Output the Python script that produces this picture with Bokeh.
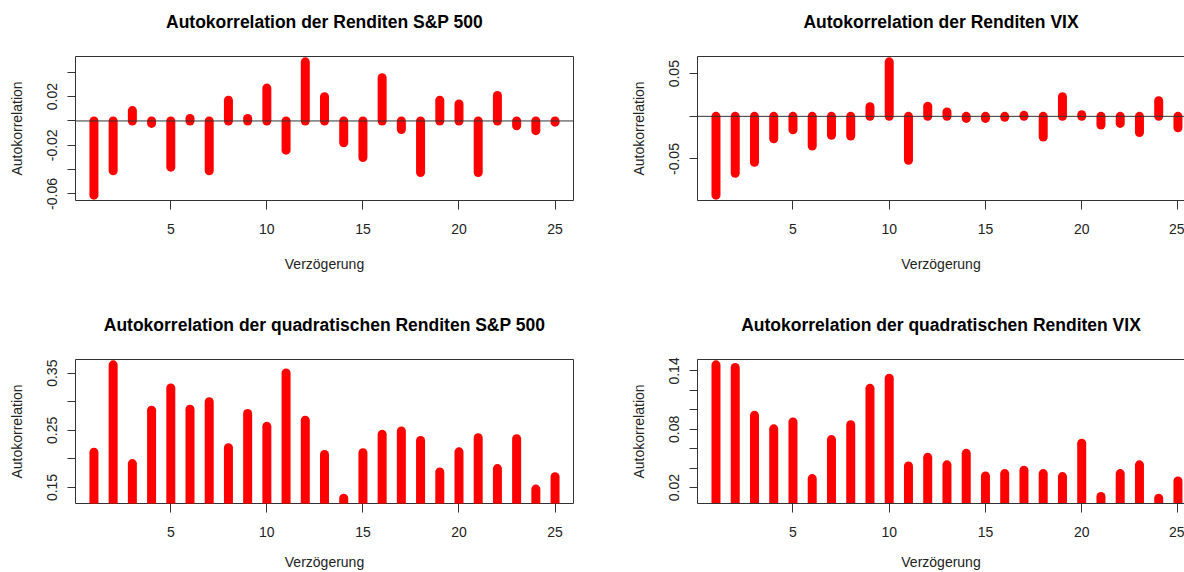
from bokeh.plotting import figure
from bokeh.layouts import gridplot
from bokeh.models import Range1d, FixedTicker, Span, LinearAxis, ColumnDataSource
from bokeh.core.properties import value
from bokeh.embed import file_html
from bokeh.resources import INLINE

lags = list(range(1, 26))
acf_sp = [-0.061, -0.041, 0.0085, -0.002, -0.038, 0.002, -0.041, 0.017, 0.002, 0.027,
          -0.024, 0.0486, 0.020, -0.018, -0.030, 0.0356, -0.007, -0.0424, 0.017, 0.014,
          -0.0424, 0.021, -0.004, -0.008, -0.001]
acf_vix = [-0.0924, -0.0667, -0.0539, -0.0262, -0.0158, -0.0349, -0.0222, -0.023, 0.0112, 0.0639,
           -0.0515, 0.0119, 0.0052, -0.0024, -0.0024, -0.0012, 0.0012, -0.0242, 0.0231, 0.002,
           -0.0102, -0.0083, -0.019, 0.0183, -0.0135]
acf_sp_sq = [0.2117, 0.3646, 0.1918, 0.2853, 0.3241, 0.287, 0.300, 0.2195, 0.2794, 0.257,
             0.3505, 0.2676, 0.2077, 0.1313, 0.2107, 0.243, 0.2488, 0.2324, 0.1772, 0.2124,
             0.2371, 0.183, 0.2354, 0.1472, 0.1689]
acf_vix_sq = [0.1463, 0.1436, 0.0944, 0.0805, 0.0875, 0.0293, 0.0694, 0.0847, 0.1221, 0.1325,
              0.0424, 0.0512, 0.0435, 0.0553, 0.032, 0.0345, 0.038, 0.0345, 0.0314, 0.0657,
              0.011, 0.0345, 0.0435, 0.0092, 0.0269]

titles = ["Autokorrelation der Renditen S&P 500",
          "Autokorrelation der Renditen VIX",
          "Autokorrelation der quadratischen Renditen S&P 500",
          "Autokorrelation der quadratischen Renditen VIX"]
xticks = [5, 10, 15, 20, 25]
yticks_sp = [-0.06, -0.04, -0.02, 0, 0.02, 0.04]
ylabels_sp = ["-0.06", "", "-0.02", "", "0.02", ""]
yticks_vix = [-0.05, 0, 0.05]
ylabels_vix = ["-0.05", "", "0.05"]
yticks_sp_sq = [0.15, 0.2, 0.25, 0.3, 0.35]
ylabels_sp_sq = ["0.15", "", "0.25", "", "0.35"]
yticks_vix_sq = [0.02, 0.04, 0.06, 0.08, 0.1, 0.12, 0.14]
ylabels_vix_sq = ["0.02", "", "", "0.08", "", "", "0.14"]

FONT = "Liberation Sans"
BOX = "#333333"
TITLE_H = 40


def xlims(right):
    return (0.04, 25.34) if right else (0.04, 25.96)


def title_fig(title, right):
    x0, x1 = xlims(right)
    t = figure(width=563 if right else 621, height=TITLE_H, output_backend="svg",
               toolbar_location=None, title=None,
               x_range=Range1d(x0, x1), y_range=Range1d(0, TITLE_H),
               x_axis_type=None, y_axis_type=None,
               min_border_left=76 if right else 75, min_border_right=0 if right else 48,
               min_border_top=0, min_border_bottom=0)
    t.outline_line_color = None
    t.xgrid.grid_line_color = None
    t.ygrid.grid_line_color = None
    t.background_fill_color = "white"
    t.border_fill_color = "white"
    t.text(x=[(x0 + x1) / 2], y=[18.5], text=[title], text_align="center",
           text_baseline="middle", text_font=value(FONT), text_font_size="17.5px",
           text_font_style="bold", text_color="#000000")
    return t


def panel(vals, yticks, ylabels, right, top_row):
    lo, hi = min(vals), max(vals)
    r = hi - lo
    w = 563 if right else 621
    h = (303 if top_row else 269) - TITLE_H
    x0, x1 = xlims(right)
    p = figure(width=w, height=h, output_backend="svg", toolbar_location=None, title=None,
               x_range=Range1d(x0, x1), y_range=Range1d(lo - 0.04 * r, hi + 0.04 * r),
               min_border_left=76 if right else 75,
               min_border_right=0 if right else 48,
               min_border_top=56 - TITLE_H,
               min_border_bottom=103 if top_row else 69)
    p.background_fill_color = "white"
    p.border_fill_color = "white"
    p.xgrid.grid_line_color = None
    p.ygrid.grid_line_color = None

    src = ColumnDataSource(dict(lag=lags, val=vals))
    p.segment(x0="lag", y0=0, x1="lag", y1="val", source=src,
              line_color="#ff0000", line_width=9, line_cap="round")
    if top_row:
        p.add_layout(Span(location=0, dimension="width", line_color=BOX, line_width=1))

    for ax in (p.xaxis[0], p.yaxis[0]):
        ax.major_tick_out = 9
        ax.major_tick_in = 0
        ax.minor_tick_line_color = None
        ax.major_tick_line_color = BOX
        ax.major_label_text_font = FONT
        ax.major_label_text_font_size = "14px"
        ax.major_label_text_color = "#222222"
        ax.axis_label_text_font = FONT
        ax.axis_label_text_font_size = "14px"
        ax.axis_label_text_font_style = "normal"
        ax.axis_label_text_color = "#222222"

    p.xaxis.ticker = FixedTicker(ticks=xticks)
    p.xaxis.axis_label = "Verzögerung"
    p.xaxis.major_label_standoff = 14
    p.xaxis.axis_label_standoff = 19 if top_row else 14
    p.yaxis.ticker = FixedTicker(ticks=yticks)
    p.yaxis.major_label_overrides = {t: l for t, l in zip(yticks, ylabels)}
    p.yaxis.major_label_orientation = "vertical"
    p.yaxis.major_tick_out = 8
    p.yaxis.major_label_standoff = 10
    p.yaxis.axis_label = "Autokorrelation"
    p.yaxis.axis_label_standoff = 20

    if right:
        p.outline_line_color = None
        p.xaxis.axis_line_color = BOX
        p.yaxis.axis_line_color = BOX
        top = LinearAxis(ticker=FixedTicker(ticks=[]), axis_line_color=BOX,
                         major_tick_line_color=None, minor_tick_line_color=None,
                         major_label_text_font_size="0px", major_label_standoff=0,
                         major_tick_out=0, major_tick_in=0)
        p.add_layout(top, "above")
    else:
        p.outline_line_color = BOX
        p.outline_line_width = 1
        p.xaxis.axis_line_color = None
        p.yaxis.axis_line_color = None
    return p


t1 = title_fig(titles[0], False)
t2 = title_fig(titles[1], True)
t3 = title_fig(titles[2], False)
t4 = title_fig(titles[3], True)
p1 = panel(acf_sp, yticks_sp, ylabels_sp, False, True)
p2 = panel(acf_vix, yticks_vix, ylabels_vix, True, True)
p3 = panel(acf_sp_sq, yticks_sp_sq, ylabels_sp_sq, False, False)
p4 = panel(acf_vix_sq, yticks_vix_sq, ylabels_vix_sq, True, False)

grid = gridplot([[t1, t2], [p1, p2], [t3, t4], [p3, p4]], toolbar_location=None)

open("out.html", "w").write(file_html(grid, INLINE))
